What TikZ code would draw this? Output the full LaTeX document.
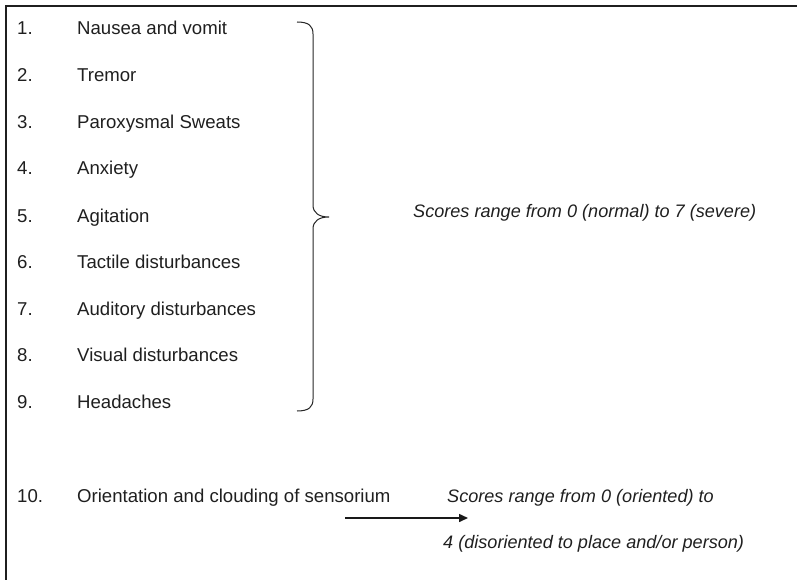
\documentclass[tikz,border=0pt]{standalone}
\usepackage{fontspec}
\setmainfont{Liberation Sans}
\usetikzlibrary{arrows.meta}
\begin{document}
\begin{tikzpicture}[x=1pt,y=-1pt,
  num/.style={anchor=base west,inner sep=0pt,font=\fontsize{18.6}{22}\selectfont,text=black!88},
  item/.style={anchor=base west,inner sep=0pt,font=\fontsize{18.6}{22}\selectfont,text=black!88},
  score/.style={anchor=base west,inner sep=0pt,font=\fontsize{18.1}{22}\selectfont\itshape,text=black!88},
  frameline/.style={line width=2.3pt,black!88},
  bracestroke/.style={line width=1pt,black!85},
  pointer/.style={line width=1.5pt,black!90,-{Triangle[length=9pt,width=8pt]}}]
\useasboundingbox (0,0) rectangle (797,580);
% open frame: top and left edges
\draw[frameline] (6.2,580) -- (6.2,6.2) -- (797,6.2);
% symptom list
\node[num]  (n1) at (17,35)  {1.};  \node[item] (t1) at (77,35)  {Nausea and vomit};
\node[num]  (n2) at (17,82)  {2.};  \node[item] (t2) at (77,82)  {Tremor};
\node[num]  (n3) at (17,129) {3.};  \node[item] (t3) at (77,129) {Paroxysmal Sweats};
\node[num]  (n4) at (17,175) {4.};  \node[item] (t4) at (77,175) {Anxiety};
\node[num]  (n5) at (17,222) {5.};  \node[item] (t5) at (77,222) {Agitation};
\node[num]  (n6) at (17,268) {6.};  \node[item] (t6) at (77,268) {Tactile disturbances};
\node[num]  (n7) at (17,315) {7.};  \node[item] (t7) at (77,315) {Auditory disturbances};
\node[num]  (n8) at (17,361) {8.};  \node[item] (t8) at (77,361) {Visual disturbances};
\node[num]  (n9) at (17,408) {9.};  \node[item] (t9) at (77,408) {Headaches};
\node[num]  (n10) at (17,502.5) {10.}; \node[item] (t10) at (77,502.5) {Orientation and clouding of sensorium};
% right brace grouping items 1-9
\draw[bracestroke] (297,22) .. controls (309,22) and (313,26) .. (313,34)
  -- (313,205) .. controls (313,213) and (319,217) .. (329,217)
  .. controls (319,217) and (313,221) .. (313,229)
  -- (313,399) .. controls (313,407) and (309,411) .. (297,411);
% score ranges
\node[score] (s1) at (413,217) {Scores range from 0 (normal) to 7 (severe)};
\node[score] (s2) at (447,502) {Scores range from 0 (oriented) to};
\node[score] (s3) at (443,548) {4 (disoriented to place and/or person)};
% arrow under item 10
\coordinate (arrowstart) at (345,518);
\coordinate (arrowend) at (468,518);
\draw[pointer] (arrowstart) -- (arrowend);
\end{tikzpicture}
\end{document}
